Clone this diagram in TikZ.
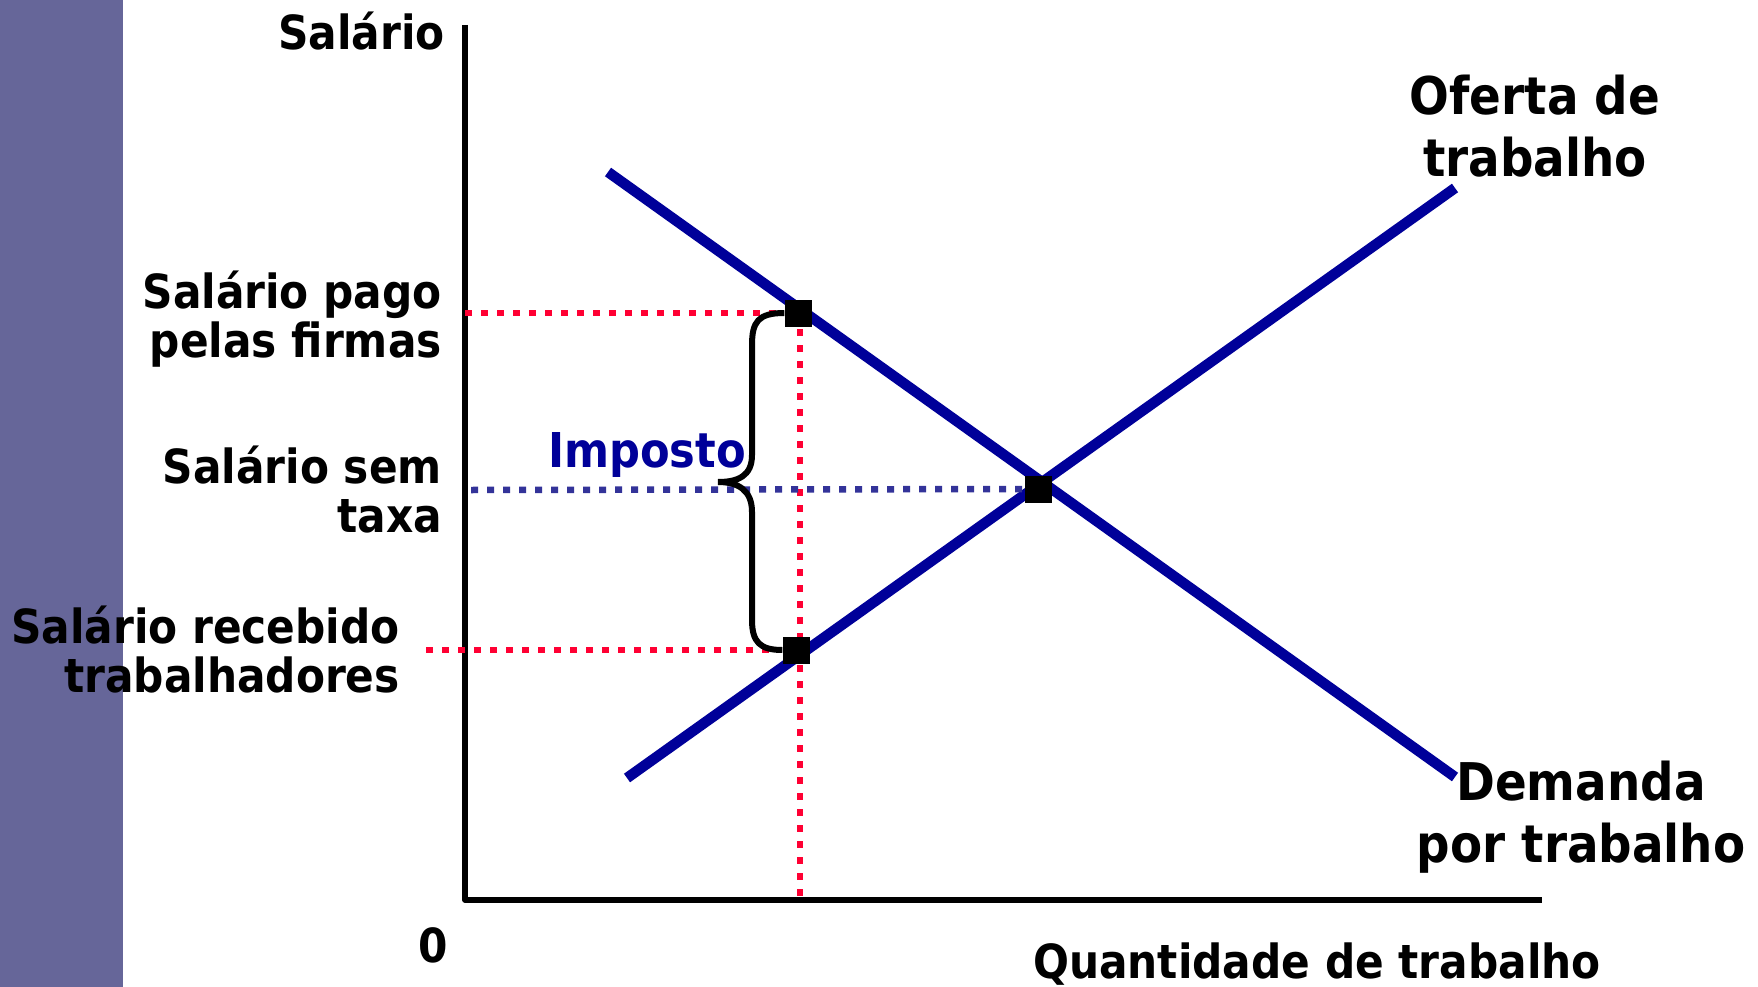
\documentclass[tikz,border=0pt]{standalone}
\usepackage{fontspec}
\setmainfont{DejaVu Sans Condensed}[BoldFont={DejaVu Sans Condensed Bold}]
\usepackage{tikz}
\usepackage{xcolor}
\definecolor{sidebar}{HTML}{666699}
\definecolor{curveblue}{HTML}{000099}
\definecolor{dotred}{HTML}{FF0033}
\definecolor{dotblue}{HTML}{333399}
\tikzset{
    curve-line/.style = {draw=curveblue, line width=10.5pt},
    axis-line/.style = {draw=black, line width=5.5pt, line join=round},
    dotted-red/.style = {draw=dotred, line width=6.5pt, dash pattern=on 7pt off 9pt},
    dotted-blue/.style = {draw=dotblue, line width=6.5pt, dash pattern=on 7pt off 9pt},
    eq-point/.style = {fill=black, rectangle, minimum size=27pt, inner sep=0pt},
    axis-label/.style = {font=\fontsize{47}{49}\selectfont\bfseries, align=right, anchor=base east, inner sep=0pt},
    curve-label/.style = {font=\fontsize{52}{62}\selectfont\bfseries, align=center, anchor=base, inner sep=0pt},
}

\begin{document}
\begin{tikzpicture}[x=1pt, y=-1pt]
\useasboundingbox (0,0) rectangle (1758,987);
\fill[sidebar] (0,0) rectangle (123,987);

% axes
\coordinate (origin) at (465,900);
\draw[axis-line] (465,25) -- (origin) -- (1542,900);
\node[axis-label] (ylabel) at (445,50) {Salário};
\node[axis-label, anchor=base west] (xlabel) at (1033,978) {Quantidade de trabalho};
\node[axis-label, anchor=base] (zero) at (433,962) {0};

% curves
\coordinate (d-start) at (608,172);
\coordinate (d-end) at (1455,777);
\coordinate (s-start) at (627,778);
\coordinate (s-end) at (1455,188);
\draw[curve-line] (d-start) -- (d-end);
\draw[curve-line] (s-start) -- (s-end);
\node[curve-label] (supply) at (1535,177) {Oferta de\\trabalho};
\node[curve-label] (demand) at (1581,862) {Demanda\\por trabalho};

% points
\node[eq-point] (firms) at (798,313) {};
\node[eq-point] (workers) at (796,650) {};
\node[eq-point] (equil) at (1038,489) {};

% guide lines
\coordinate (y-firms) at (465,313);
\coordinate (y-workers) at (426,650);
\coordinate (y-equil) at (471,490);
\coordinate (x-tax) at (800,900);
\draw[dotted-red] (y-firms) -- (firms);
\draw[dotted-red] (y-workers) -- (workers);
\draw[dotted-red] (firms.center -| x-tax) -- (x-tax);
\draw[dotted-blue] (y-equil) -- (equil);
\node[axis-label] (l-firms) at (442,357) {Salário pago\\pelas firmas};
\node[axis-label] (l-equil) at (442,532) {Salário sem\\taxa};
\node[axis-label] (l-workers) at (400,692) {Salário recebido\\trabalhadores};

% tax brace
\draw[line width=6pt] (firms.west) .. controls (758,313) and (752,322) .. (752,345)
    -- (752,455) .. controls (752,476) and (738,482) .. (718,482)
    .. controls (738,482) and (752,490) .. (752,512)
    -- (752,620) .. controls (752,642) and (760,650) .. (workers.west);
\node[axis-label, font=\fontsize{48}{50}\selectfont\bfseries, text=curveblue] (tax) at (746,467) {Imposto};
\node[eq-point] at (firms) {};
\node[eq-point] at (workers) {};
\end{tikzpicture}
\end{document}
